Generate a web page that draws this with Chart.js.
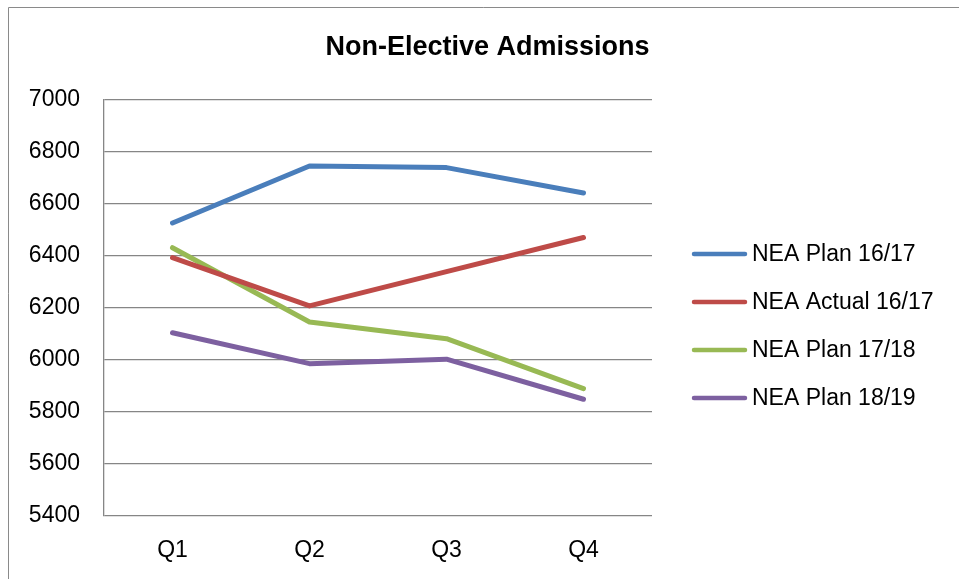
<!DOCTYPE html>
<html>
<head>
<meta charset="utf-8">
<script src="https://cdn.jsdelivr.net/npm/chart.js@4"></script>
<style>
  html, body { margin: 0; padding: 0; background: #fff; }
  #wrap { width: 959px; height: 579px; }
</style>
</head>
<body>
<div id="wrap"><canvas id="nea" width="959" height="579"></canvas></div>
<script>
// chart data
const quarters = ['Q1', 'Q2', 'Q3', 'Q4'];
const planA = [6527, 6746, 6740, 6642];      // NEA Plan 16/17
const actualA = [6394, 6208, 6340, 6471];    // NEA Actual 16/17
const planB = [6432, 6146, 6082, 5890];      // NEA Plan 17/18
const planC = [6105, 5986, 6003, 5849];      // NEA Plan 18/19
const seriesNames = ['NEA Plan 16/17', 'NEA Actual 16/17', 'NEA Plan 17/18', 'NEA Plan 18/19'];
const seriesColors = ['#4a7ebb', '#be4b48', '#98b954', '#7d60a0'];
const yMin = 5400, yMax = 7000, yStep = 200;

const FONT = '"Liberation Sans", Arial, sans-serif';
const GRID = '#868686';

// frame, title and legend drawn by hand so they sit where Excel put them
const decor = {
    id: 'decor',
    beforeDraw(chart) {
        const ctx = chart.ctx;
        ctx.save();
        ctx.strokeStyle = '#8a8a8a';
        ctx.lineWidth = 1;
        ctx.beginPath();
        ctx.moveTo(8.5, 579);
        ctx.lineTo(8.5, 7.5);
        ctx.lineTo(959, 7.5);
        ctx.stroke();
        ctx.restore();
    },
    afterDraw(chart) {
        const ctx = chart.ctx;
        ctx.save();
        ctx.fillStyle = '#000';
        ctx.font = 'bold 27px ' + FONT;
        ctx.textAlign = 'center';
        ctx.textBaseline = 'middle';
        ctx.fillText('Non-Elective Admissions', 487.5, 48);

        ctx.font = '23px ' + FONT;
        ctx.textAlign = 'left';
        chart.data.datasets.forEach((ds, i) => {
            const y = 254 + i * 48;
            ctx.strokeStyle = ds.borderColor;
            ctx.lineWidth = 4.5;
            ctx.lineCap = 'round';
            ctx.beginPath();
            ctx.moveTo(694, y);
            ctx.lineTo(745, y);
            ctx.stroke();
            ctx.fillText(ds.label, 752, y + 1);
        });
        ctx.restore();
    }
};

const lists = [planA, actualA, planB, planC];

new Chart(document.getElementById('nea'), {
    type: 'line',
    data: {
        labels: quarters,
        datasets: lists.map((vals, i) => ({
            label: seriesNames[i],
            data: vals,
            borderColor: seriesColors[i],
            backgroundColor: seriesColors[i],
            borderWidth: 5,
            borderCapStyle: 'round',
            borderJoinStyle: 'round',
            pointRadius: 0,
            tension: 0,
            fill: false
        }))
    },
    options: {
        responsive: false,
        animation: false,
        layout: { padding: { top: 100, right: 307, bottom: 0, left: 0 } },
        plugins: {
            legend: { display: false },
            title: { display: false },
            tooltip: { enabled: false }
        },
        scales: {
            x: {
                offset: true,
                afterFit(axis) { axis.height = 63; },
                grid: { display: false, drawTicks: false },
                border: { display: false },
                ticks: { color: '#000', font: { family: FONT, size: 23 }, padding: 21 }
            },
            y: {
                min: yMin,
                max: yMax,
                afterFit(axis) { axis.width = 104; },
                grid: { color: GRID, lineWidth: 1.3, drawTicks: false },
                border: { display: true, color: GRID, width: 1.3 },
                ticks: {
                    stepSize: yStep,
                    color: '#000',
                    font: { family: FONT, size: 23 },
                    padding: 24,
                    callback: (v) => String(v)
                }
            }
        }
    },
    plugins: [decor]
});
</script>
</body>
</html>
